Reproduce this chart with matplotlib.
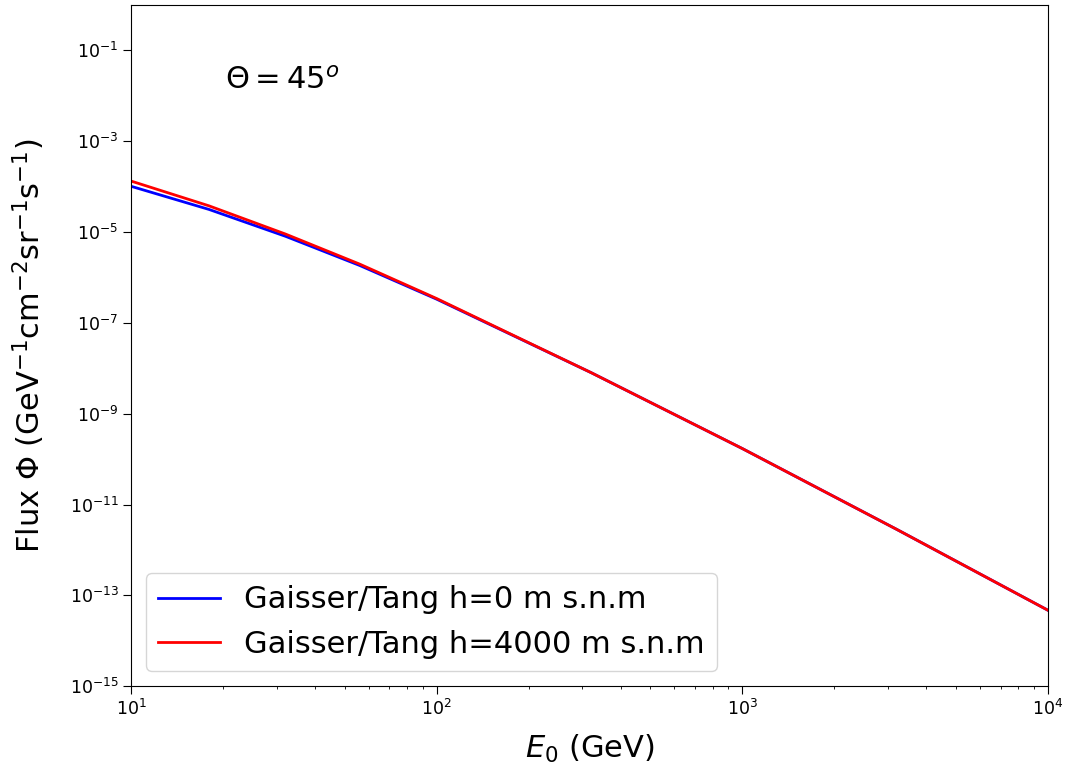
import matplotlib
matplotlib.use('Agg')
import matplotlib.pyplot as plt
import numpy as np

# Muon flux at zenith angle 45 deg, Gaisser/Tang parametrisation
energy = [10, 18, 32, 56, 100, 320, 1000, 3200, 10000]
flux_sea_level = [1.02e-4, 3.15e-5, 8.09e-6, 1.84e-6, 3.33e-7, 8.04e-9, 1.71e-10, 2.84e-12, 4.70e-14]
flux_4000m = [1.33e-4, 3.78e-5, 9.06e-6, 1.97e-6, 3.44e-7, 8.04e-9, 1.71e-10, 2.84e-12, 4.70e-14]

yticks = [10.0 ** k for k in range(-15, 0, 2)]

fig = plt.figure(figsize=(10.65, 7.71), dpi=100)
ax = fig.add_axes([0.123, 0.110, 0.861, 0.8835])

ax.plot(energy, flux_sea_level, color='blue', lw=2, label='Gaisser/Tang h=0 m s.n.m')
ax.plot(energy, flux_4000m, color='red', lw=2, label='Gaisser/Tang h=4000 m s.n.m')

ax.set_xscale('log')
ax.set_yscale('log')
ax.set_xlim(10, 1e4)
ax.set_ylim(1e-15, 1)
ax.set_yticks(yticks)
ax.yaxis.set_minor_locator(matplotlib.ticker.NullLocator())
ax.tick_params(labelsize=12.5, length=5.5)

ax.set_xlabel('$E_0$ (GeV)', fontsize=22, labelpad=10)
ax.set_ylabel('Flux $\\Phi$ (GeV$^{-1}$cm$^{-2}$sr$^{-1}$s$^{-1}$)', fontsize=22, labelpad=16)
ax.text(0.103, 0.89, '$\\Theta = 45^o$', transform=ax.transAxes, fontsize=22, va='center')

ax.legend(loc='lower left', fontsize=22)

fig.savefig('out.png', dpi=100)
